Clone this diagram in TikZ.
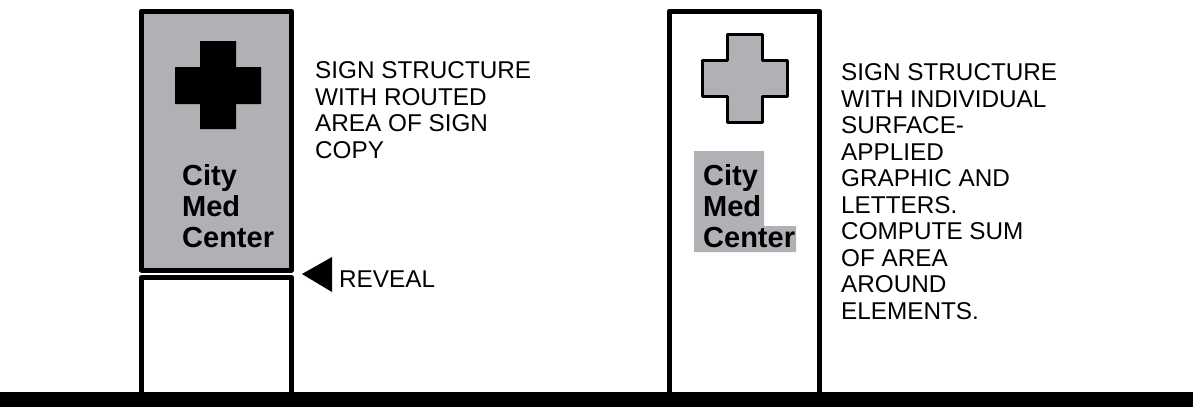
\documentclass[tikz,border=0pt]{standalone}
\usepackage{fontspec}
\setmainfont{Liberation Sans}
\definecolor{signgray}{HTML}{B0B1B5}
\tikzset{
  post/.style={draw=black,line width=5pt,line join=round},
  note/.style={anchor=north west,inner sep=0pt,align=left,font=\fontsize{24.3}{26.5}\selectfont},
  copytext/.style={anchor=north west,inner sep=0pt,align=left,font=\fontsize{29}{31}\selectfont\bfseries}
}
\begin{document}
\begin{tikzpicture}[x=1pt,y=-1pt]
\useasboundingbox(0,0)rectangle(1193,407);
% left sign
\draw[post,fill=signgray](141.5,11)rectangle(291.5,270);
\draw[post](141.5,392)--(141.5,277.5)--(291.5,277.5)--(291.5,392);
\fill(200,41)--(236,41)--(236,67)--(261,67)--(261,104)--(236,104)--(236,129)--(200,129)--(200,104)--(175,104)--(175,67)--(200,67)--cycle;
\node[copytext](leftcopy)at(182,164){City\\Med\\Center};
\fill(302,274)--(332,257)--(332,292)--cycle;
\node[note](reveal)at(339,271){REVEAL};
\node[note](leftnote)at(315,61.5){SIGN STRUCTURE\\WITH ROUTED\\AREA OF SIGN\\COPY};
% right sign
\draw[post](669.5,392)--(669.5,11)--(819.5,11)--(819.5,392);
\draw[draw=black,fill=signgray,line width=3pt,line join=round](727.5,34.5)--(762,34.5)--(762,60.5)--(787,60.5)--(787,96)--(762,96)--(762,122)--(727.5,122)--(727.5,96)--(702.5,96)--(702.5,60.5)--(727.5,60.5)--cycle;
\fill[signgray](694,151)--(764,151)--(764,226)--(796,226)--(796,252)--(694,252)--cycle;
\node[copytext](rightcopy)at(703,164){City\\Med\\Center};
\node[note](rightnote)at(841,63.5){SIGN STRUCTURE\\WITH INDIVIDUAL\\SURFACE-\\APPLIED\\GRAPHIC AND\\LETTERS.\\COMPUTE SUM\\OF AREA\\AROUND\\ELEMENTS.};
% ground
\fill(0,392)rectangle(1193,407);
\end{tikzpicture}
\end{document}
